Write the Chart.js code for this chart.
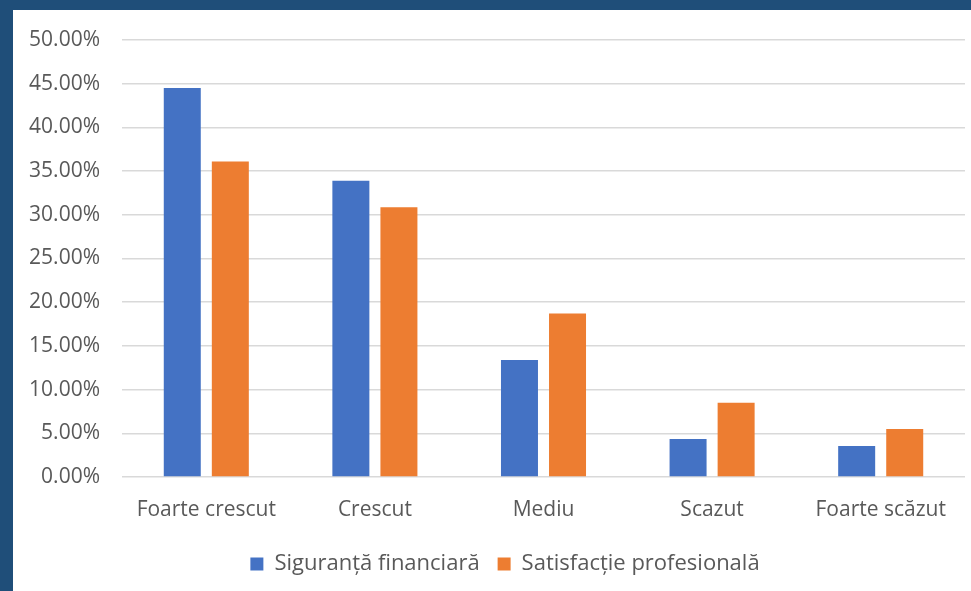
<!DOCTYPE html>
<html>
<head>
<meta charset="utf-8">
<script src="https://cdn.jsdelivr.net/npm/chart.js@4.4.0/dist/chart.umd.min.js"></script>
<style>
    html, body { margin: 0; padding: 0; }
    body { width: 971px; height: 591px; background: #1f4e79; position: relative; overflow: hidden; }
    #box { position: absolute; left: 13px; top: 10px; width: 958px; height: 581px; background: #ffffff; }
</style>
</head>
<body>
<div id="box"><canvas id="myGraphic"></canvas></div>
<script>
// Categorii si valori (procente)
const categorii = ['Foarte crescut', 'Crescut', 'Mediu', 'Scazut', 'Foarte scăzut'];
const siguranta = [44.5, 33.9, 13.4, 4.36, 3.55];
const satisfactie = [36.1, 30.85, 18.7, 8.5, 5.5];

const textColor = '#595959';
const fontFam = '"Open Sans", "Noto Sans", sans-serif';

// mutam legenda putin spre dreapta, ca in original
const legendShift = {
    id: 'legendShift',
    afterLayout(chart) {
        chart.legend.left += 16;
        chart.legend.right += 16;
    }
};

var myChart = new Chart('myGraphic', {
    type: 'bar',
    data: {
        labels: categorii,
        datasets: [{
            label: 'Siguranță financiară',
            backgroundColor: '#4472c4',
            data: siguranta
        }, {
            label: 'Satisfacție profesională',
            backgroundColor: '#ed7d31',
            data: satisfactie
        }]
    },
    plugins: [legendShift],
    options: {
        responsive: true,
        maintainAspectRatio: false,
        animation: false,
        categoryPercentage: 0.57,
        barPercentage: 0.77,
        layout: {
            padding: { top: 30, right: 6, bottom: 6, left: 0 }
        },
        scales: {
            y: {
                min: 0,
                max: 50,
                ticks: {
                    stepSize: 5,
                    color: textColor,
                    padding: 22,
                    font: { size: 21, family: fontFam },
                    callback: v => v.toFixed(2) + '%'
                },
                grid: { color: '#d9d9d9', lineWidth: 1.5, drawTicks: false },
                border: { display: false },
                afterFit: s => { s.width = 109; s.paddingTop = 0; s.paddingBottom = 0; }
            },
            x: {
                ticks: {
                    color: textColor,
                    padding: 12,
                    font: { size: 21, family: fontFam }
                },
                grid: { display: false },
                border: { display: false },
                afterFit: s => { s.height = 58; }
            }
        },
        plugins: {
            legend: {
                display: true,
                position: 'bottom',
                labels: {
                    color: textColor,
                    boxWidth: 13,
                    boxHeight: 13,
                    padding: 18,
                    font: { size: 22, family: fontFam }
                }
            },
            tooltip: { enabled: false }
        }
    }
});
</script>
</body>
</html>
